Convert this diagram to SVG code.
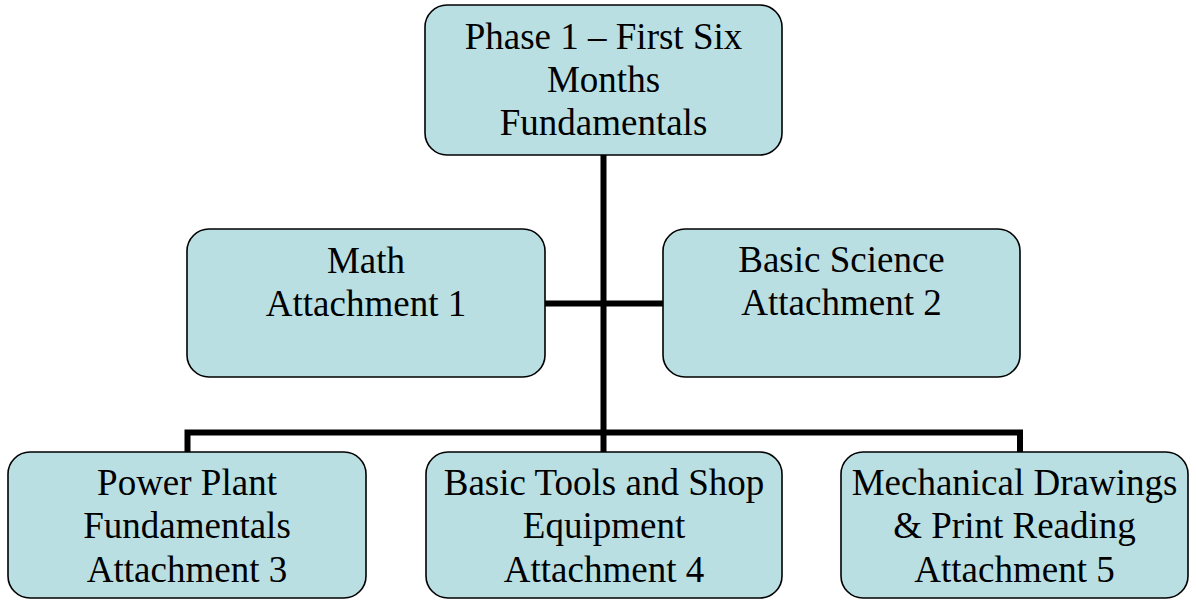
<svg xmlns="http://www.w3.org/2000/svg" width="1196" height="600" viewBox="0 0 1196 600">
<style>
.box{fill:#b9dfe3;stroke:#000;stroke-width:1.6}
.lbl{font-family:"Liberation Serif","Times New Roman",serif;font-size:37px;fill:#000;text-anchor:middle}
.con{fill:none;stroke:#000;stroke-width:6;stroke-linejoin:miter;stroke-linecap:butt}
</style>
<rect width="1196" height="600" fill="#fff"/>
<g id="connectors">
<path class="con" d="M603.5,155 V452"/>
<path class="con" d="M545,303.5 H663"/>
<path class="con" d="M187.5,452 V432.5 H1020 V452"/>
</g>
<g id="phase1">
<rect class="box" x="425" y="5" width="357" height="150" rx="22"/>
<text class="lbl" x="603.5" y="49">Phase 1 – First Six</text>
<text class="lbl" x="603.5" y="92">Months</text>
<text class="lbl" x="603.5" y="135">Fundamentals</text>
</g>
<g id="math">
<rect class="box" x="187" y="229" width="358" height="148" rx="22"/>
<text class="lbl" x="366" y="273">Math</text>
<text class="lbl" x="366" y="316">Attachment 1</text>
</g>
<g id="science">
<rect class="box" x="663" y="229" width="357" height="148" rx="22"/>
<text class="lbl" x="841.5" y="272">Basic Science</text>
<text class="lbl" x="841.5" y="315">Attachment 2</text>
</g>
<g id="powerplant">
<rect class="box" x="8" y="452" width="358" height="146" rx="22"/>
<text class="lbl" x="187" y="495">Power Plant</text>
<text class="lbl" x="187" y="538">Fundamentals</text>
<text class="lbl" x="187" y="582">Attachment 3</text>
</g>
<g id="tools">
<rect class="box" x="426" y="452" width="356" height="146" rx="22"/>
<text class="lbl" x="604" y="495">Basic Tools and Shop</text>
<text class="lbl" x="604" y="538">Equipment</text>
<text class="lbl" x="604" y="582">Attachment 4</text>
</g>
<g id="drawings">
<rect class="box" x="841" y="452" width="347" height="146" rx="22"/>
<text class="lbl" x="1014.5" y="495">Mechanical Drawings</text>
<text class="lbl" x="1014.5" y="538">&amp; Print Reading</text>
<text class="lbl" x="1014.5" y="582">Attachment 5</text>
</g>
</svg>
